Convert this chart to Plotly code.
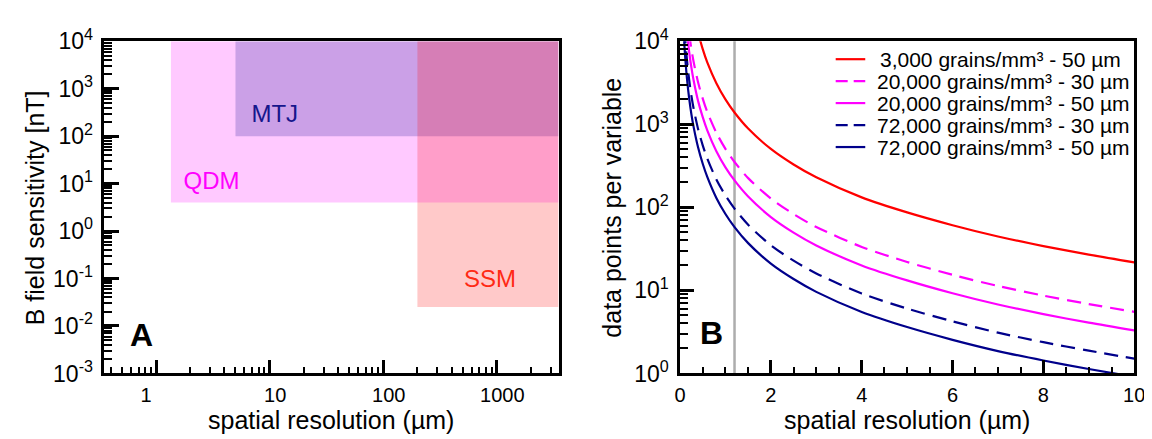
import plotly.graph_objects as go

W, H = 1152, 439
OX, OY = 0, 0
FW, FH = W - 2 * OX, H - 2 * OY


def PX(t):
    return (t - OX) / FW


def PY(t):
    return 1 - (t - OY) / FH


# ---------------- Panel A data ----------------
qdm_x = [1.35, 3500]
qdm_y = [4, 10000]
mtj_x = [5, 3500]
mtj_y = [100, 10000]
ssm_x = [200, 3500]
ssm_y = [0.025, 10000]

label_text = ["MTJ", "QDM", "SSM"]
label_x = [11.1, 3.08, 873]
label_y = [270, 10.5, 0.087]
label_color = ["#16168c", "#ff00ff", "#ff2a14"]

a_xtick_vals = [1, 10, 100, 1000]
a_xtick_text = ["1\u2003", "\u200710", "\u2007100", "\u20071000"]
a_ytick_vals = [1e-3, 1e-2, 1e-1, 1, 10, 100, 1000, 10000]
a_ytick_text = ["10<sup>-3</sup>", "10<sup>-2</sup>", "10<sup>-1</sup>", "10<sup>0</sup>",
                "10<sup>1</sup>", "10<sup>2</sup>", "10<sup>3</sup>", "10<sup>4</sup>"]

# ---------------- Panel B data ----------------
red_x = [0.4, 0.5, 0.6, 0.8, 1.0, 1.2, 1.5, 2, 2.5, 3, 4, 5, 6, 7, 8, 9, 10]
red_y = [12500, 8050, 5580, 3130, 2000, 1390, 890, 505, 328, 230, 132, 87, 61, 44.6, 34.2, 27, 21.8]

mag30_x = [0.2, 0.25, 0.3, 0.4, 0.5, 0.6, 0.8, 1.0, 1.2, 1.5, 2, 2.5, 3, 4, 5, 6, 7, 8, 9, 10]
mag30_y = [12700, 8100, 5630, 3160, 2040, 1410, 792, 506, 352, 225, 128, 83, 58, 33.4, 22, 15.4, 11.3, 8.66, 6.84, 5.52]

mag50_x = [0.15, 0.2, 0.25, 0.3, 0.4, 0.5, 0.6, 0.8, 1.0, 1.2, 1.5, 2, 2.5, 3, 4, 5, 6, 7, 8, 9, 10]
mag50_y = [13500, 7580, 4850, 3370, 1890, 1220, 845, 474, 303, 211, 135, 76.5, 49.7, 34.8, 20, 13.2, 9.24, 6.76, 5.18, 4.09, 3.3]

navy30_x = [0.1, 0.12, 0.15, 0.2, 0.25, 0.3, 0.4, 0.5, 0.6, 0.8, 1.0, 1.2, 1.5, 2, 2.5, 3, 4, 5, 6, 7, 8, 9, 10]
navy30_y = [13900, 9650, 6180, 3470, 2220, 1540, 868, 559, 388, 217, 139, 96.5, 61.8, 35, 22.8, 16, 9.17, 6.04, 4.24, 3.1, 2.38, 1.88, 1.51]

navy50_x = [0.08, 0.1, 0.12, 0.15, 0.2, 0.25, 0.3, 0.4, 0.5, 0.6, 0.8, 1.0, 1.2, 1.5, 2, 2.5, 3, 4, 5, 6, 7, 8, 9, 10]
navy50_y = [13000, 8330, 5790, 3700, 2080, 1330, 926, 521, 335, 233, 130, 83.3, 57.9, 37.1, 21, 13.7, 9.6, 5.5, 3.62, 2.54, 1.86, 1.43, 1.13, 0.91]

series_names = ["3,000 grains/mm³ - 50 µm", "20,000 grains/mm³ - 30 µm", "20,000 grains/mm³ - 50 µm",
                "72,000 grains/mm³ - 30 µm", "72,000 grains/mm³ - 50 µm"]

marker_line_x = 1.2

b_xtick_vals = [0, 2, 4, 6, 8, 10]
b_ytick_vals = [1, 10, 100, 1000, 10000]
b_ytick_text = ["10<sup>0</sup>", "10<sup>1</sup>", "10<sup>2</sup>", "10<sup>3</sup>", "10<sup>4</sup>"]

FONT = "Liberation Sans, Arial, sans-serif"
XTICK = 20
YTICK = 23
TITLE = 25

fig = go.Figure()


def rect(xs, ys, color):
    x0, x1 = xs
    y0, y1 = ys
    return go.Scatter(x=[x0, x1, x1, x0, x0], y=[y0, y0, y1, y1, y0], mode="lines",
                      fill="toself", fillcolor=color, line=dict(width=0),
                      hoverinfo="skip", showlegend=False, xaxis="x", yaxis="y")


fig.add_trace(rect(qdm_x, qdm_y, "rgba(255,0,255,0.21)"))
fig.add_trace(rect(mtj_x, mtj_y, "rgba(0,0,139,0.205)"))
fig.add_trace(rect(ssm_x, ssm_y, "rgba(255,0,0,0.21)"))

for t, x, y, c in zip(label_text, label_x, label_y, label_color):
    fig.add_trace(go.Scatter(x=[x], y=[y], mode="text", text=[t],
                             textfont=dict(family=FONT, size=24, color=c),
                             showlegend=False, hoverinfo="skip", xaxis="x", yaxis="y"))

styles = [
    (red_x, red_y, "#ff0000", "solid"),
    (mag30_x, mag30_y, "#ff00ff", "14px,8px"),
    (mag50_x, mag50_y, "#ff00ff", "solid"),
    (navy30_x, navy30_y, "#00008b", "14px,8px"),
    (navy50_x, navy50_y, "#00008b", "solid"),
]
for (xs, ys, c, d), name in zip(styles, series_names):
    fig.add_trace(go.Scatter(x=xs, y=ys, mode="lines", name=name, showlegend=False,
                             line=dict(color=c, width=2.2, dash=d, shape="spline", smoothing=0.8),
                             xaxis="x2", yaxis="y2"))


def minor_log(lo, hi):
    vals = []
    for e in range(lo, hi + 1):
        for k in range(2, 10):
            vals.append(k * 10 ** e)
    return vals


ydom = [PY(374), PY(17.5)]
common = dict(showline=True, linecolor="black", linewidth=2.5, mirror=True,
              ticks="inside", tickcolor="black", tickwidth=2.5, showgrid=False, zeroline=False,
              ticklabeloverflow="allow")
xfont = dict(family=FONT, size=XTICK, color="black")
yfont = dict(family=FONT, size=YTICK, color="black")

shapes = [dict(type="line", xref="x2", yref="y2 domain", x0=marker_line_x, x1=marker_line_x,
               y0=0, y1=1, line=dict(color="#adadad", width=2.5), layer="below")]

fig.update_layout(
    width=FW, height=FH, margin=dict(l=0, r=0, t=0, b=0),
    paper_bgcolor="white", plot_bgcolor="white",
    font=dict(family=FONT, color="black"),
    showlegend=False,
    xaxis=dict(domain=[PX(91.7), PX(552.7)], type="log", range=[-0.4559, 3.5441],
               tickvals=a_xtick_vals, ticktext=a_xtick_text, ticklen=14, anchor="y",
               ticklabelstandoff=2, tickfont=xfont,
               minor=dict(tickvals=minor_log(-1, 3), ticks="inside", ticklen=7, tickwidth=1.5,
                          tickcolor="black", showgrid=False),
               **common),
    yaxis=dict(domain=ydom, type="log", range=[-3, 4], tickvals=a_ytick_vals, ticktext=a_ytick_text,
               ticklen=15, anchor="x", ticklabelstandoff=4, tickfont=yfont,
               minor=dict(tickvals=minor_log(-3, 3), ticks="inside", ticklen=8, tickwidth=1.5,
                          tickcolor="black", showgrid=False),
               **common),
    xaxis2=dict(domain=[PX(676), PX(1137)], range=[0, 10], tickvals=b_xtick_vals, ticklen=14,
                anchor="y2", ticklabelstandoff=2, tickfont=xfont,
                minor=dict(dtick=0.5, ticks="inside", ticklen=7, tickwidth=1.5, tickcolor="black",
                           showgrid=False),
                **common),
    yaxis2=dict(domain=ydom, type="log", range=[0, 4], tickvals=b_ytick_vals, ticktext=b_ytick_text,
                ticklen=14, anchor="x2", ticklabelstandoff=4, tickfont=yfont,
                minor=dict(tickvals=minor_log(0, 3), ticks="inside", ticklen=8, tickwidth=1.5,
                           tickcolor="black", showgrid=False),
                **common),
)


def ann(text, px, py, size, angle=0, bold=False, xanchor="center", color="black"):
    fig.add_annotation(text=f"<b>{text}</b>" if bold else text, x=PX(px), y=PY(py),
                       xref="paper", yref="paper", showarrow=False, textangle=angle,
                       xanchor=xanchor, yanchor="middle",
                       font=dict(family=FONT, size=size, color=color))


# manual legend (sample line + text) in the top right of panel B
legend_rows = [36.7, 60.3, 83.8, 107.4, 131.0]
legend_text_x = [877, 874, 874, 874, 874]
for (xs, ys, c, d), name, ry, tx in zip(styles, series_names, legend_rows, legend_text_x):
    shapes.append(dict(type="line", xref="paper", yref="paper", x0=PX(834), x1=PX(864),
                       y0=PY(ry), y1=PY(ry),
                       line=dict(color=c, width=2.2, dash="12px,6px" if d != "solid" else "solid")))
    ann(name, tx, ry, 21, xanchor="left")

fig.update_layout(shapes=shapes)

ann("spatial resolution (µm)", 322, 424, TITLE)
ann("spatial resolution (µm)", 906.5, 424, TITLE)
ann("B field sensitivity [nT]", 21, 196, TITLE, angle=-90)
ann("data points per variable", 607, 196, TITLE, angle=-90)
ann("A", 129, 333, 32, bold=True)
ann("B", 708, 331, 32, bold=True)

fig.write_html("out.html")
